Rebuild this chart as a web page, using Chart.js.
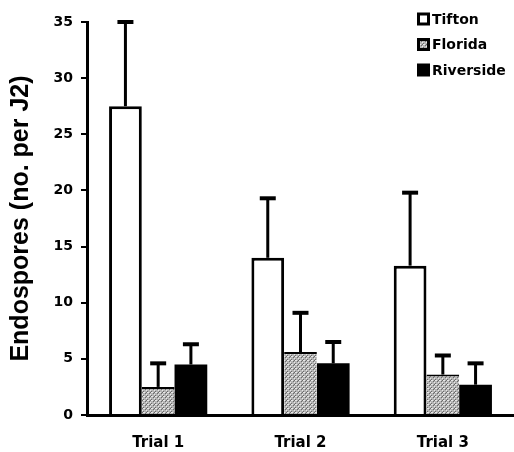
<!DOCTYPE html>
<html>
<head>
<meta charset="utf-8">
<script src="https://cdn.jsdelivr.net/npm/chart.js@4.4.1/dist/chart.umd.min.js"></script>
<style>
  html, body { margin: 0; padding: 0; background: #fff; }
  #wrap { width: 514px; height: 452px; }
</style>
</head>
<body>
<div id="wrap"><canvas id="endoChart" width="514" height="452"></canvas></div>
<script>
// chart data
const trials = ['Trial 1', 'Trial 2', 'Trial 3'];
const tifton = [27.5, 14.0, 13.3];
const tiftonErr = [7.5, 5.3, 6.5];
const florida = [2.5, 5.6, 3.6];
const floridaErr = [2.1, 3.5, 1.7];
const riverside = [4.5, 4.6, 2.7];
const riversideErr = [1.8, 1.9, 1.9];
const yTicks = [0, 5, 10, 15, 20, 25, 30, 35];

const FONT = '"DejaVu Sans", Arial, sans-serif';
const TITLE_FONT = '"Liberation Sans", Arial, sans-serif';

// stippled grey fill like the print
function makeStipple() {
    const c = document.createElement('canvas');
    c.width = 4; c.height = 4;
    const g = c.getContext('2d');
    g.fillStyle = '#b4b4b4';
    g.fillRect(0, 0, 4, 4);
    g.fillStyle = '#e8e8e8';
    g.fillRect(0, 0, 1, 1); g.fillRect(2, 2, 1, 1); g.fillRect(3, 0, 1, 1);
    g.fillStyle = '#6a6a6a';
    g.fillRect(1, 1, 1, 1); g.fillRect(3, 3, 1, 1); g.fillRect(2, 0, 1, 1);
    return g.createPattern(c, 'repeat');
}

const ctx = document.getElementById('endoChart').getContext('2d');
const stipple = makeStipple();

// upper error bars, drawn from the bar elements and the y scale
const errorBars = {
    id: 'errorBars',
    afterDatasetsDraw(chart) {
        const c = chart.ctx;
        const y = chart.scales.y;
        c.save();
        c.strokeStyle = '#000';
        chart.data.datasets.forEach((ds, i) => {
            const meta = chart.getDatasetMeta(i);
            meta.data.forEach((bar, j) => {
                const top = y.getPixelForValue(ds.data[j] + ds.err[j]);
                c.lineWidth = 3;
                c.beginPath();
                c.moveTo(bar.x, bar.y);
                c.lineTo(bar.x, top);
                c.stroke();
                c.lineWidth = 4;
                c.beginPath();
                c.moveTo(bar.x - 8, top);
                c.lineTo(bar.x + 8, top);
                c.stroke();
            });
        });
        c.restore();
    }
};

// legend in the top right corner
const cornerLegend = {
    id: 'cornerLegend',
    afterDraw(chart) {
        const c = chart.ctx;
        c.save();
        c.font = 'bold 14px ' + FONT;
        c.textBaseline = 'middle';
        chart.data.datasets.forEach((ds, i) => {
            const x = 417, yc = 19 + i * 25.5;
            c.fillStyle = '#000';
            c.fillRect(x, yc - 6.5, 13, 13);
            if (i < 2) {
                c.fillStyle = ds.backgroundColor;
                c.fillRect(x + 3, yc - 3.5, 7, 7);
            }
            c.fillStyle = '#000';
            c.fillText(ds.label, x + 15, yc + 1);
        });
        c.restore();
    }
};

new Chart(ctx, {
    type: 'bar',
    data: {
        labels: trials,
        datasets: [
            { label: 'Tifton', data: tifton, err: tiftonErr, backgroundColor: '#fff', borderColor: '#000', borderWidth: 3 },
            { label: 'Florida', data: florida, err: floridaErr, backgroundColor: stipple, borderColor: '#000', borderWidth: { top: 2, left: 0, right: 0, bottom: 0 } },
            { label: 'Riverside', data: riverside, err: riversideErr, backgroundColor: '#000', borderColor: '#000', borderWidth: 0 }
        ]
    },
    options: {
        responsive: false,
        animation: false,
        layout: { padding: { top: 22, right: 0, left: 0, bottom: 0 } },
        categoryPercentage: 0.69,
        barPercentage: 1.0,
        plugins: {
            legend: { display: false },
            tooltip: { enabled: false }
        },
        scales: {
            x: {
                grid: { display: false },
                border: { display: true, color: '#000', width: 3 },
                ticks: { color: '#000', font: { family: FONT, size: 15, weight: 'bold' }, padding: 11 },
                afterFit: (s) => { s.height = 37; }
            },
            y: {
                min: 0,
                max: 35,
                afterBuildTicks: (s) => { s.ticks = yTicks.map(v => ({ value: v })); },
                grid: { drawOnChartArea: false, drawTicks: true, tickLength: 6, color: '#000', lineWidth: 2 },
                border: { display: true, color: '#000', width: 3 },
                ticks: { color: '#000', font: { family: FONT, size: 14, weight: 'bold' }, padding: 8 },
                title: { display: true, text: 'Endospores (no. per J2)', color: '#000', font: { family: TITLE_FONT, size: 25, weight: 'bold' }, padding: { top: 6, bottom: 0 } },
                afterFit: (s) => { s.width = 87; }
            }
        }
    },
    plugins: [errorBars, cornerLegend]
});
</script>
</body>
</html>
